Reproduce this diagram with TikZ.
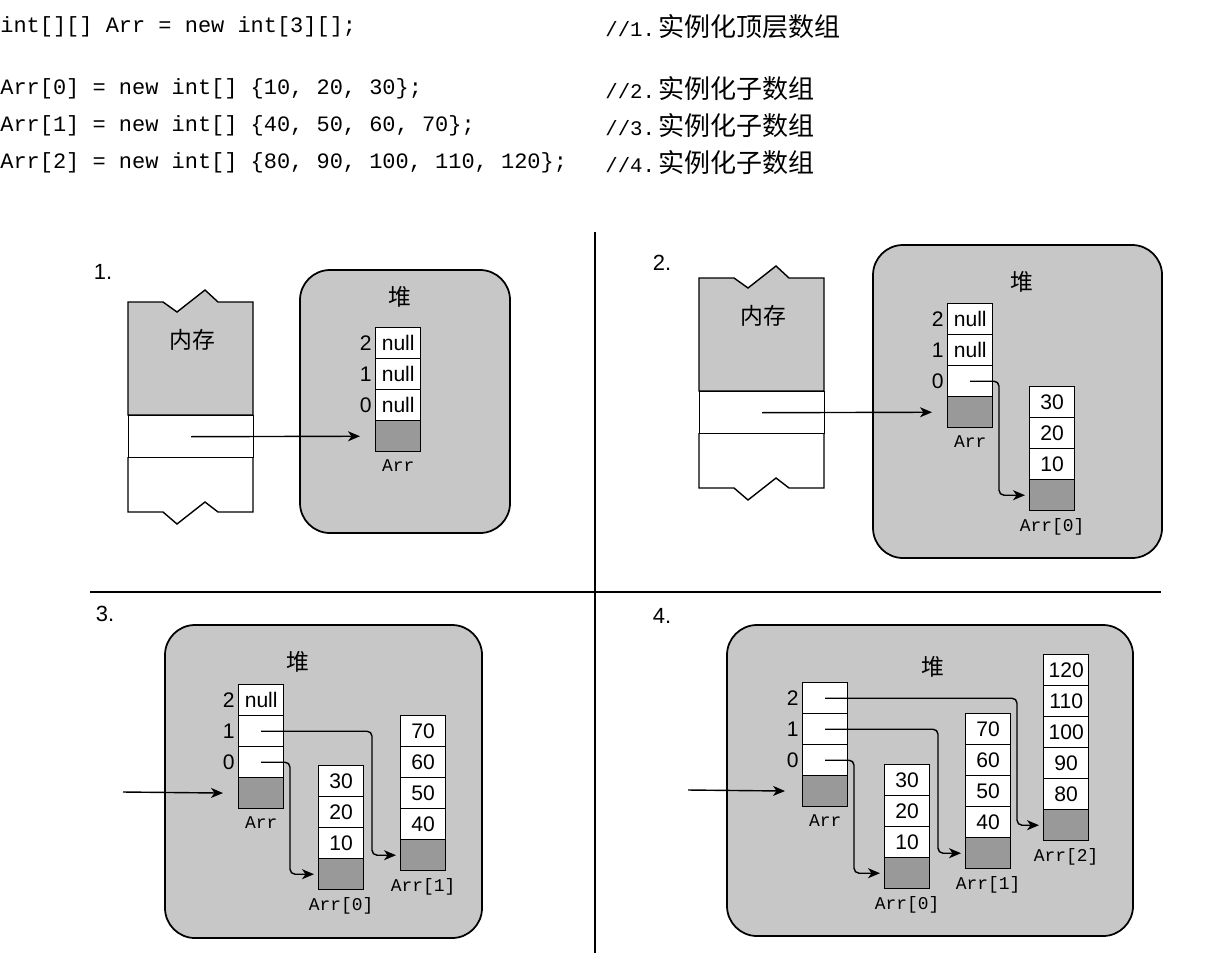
\documentclass[tikz,border=0pt]{standalone}
\usepackage{fontspec}
\setmainfont{Liberation Sans}
\newfontfamily\cjk{Noto Sans CJK SC}
\newfontfamily\codefont{Liberation Mono}
\usetikzlibrary{arrows.meta, positioning, calc}
\definecolor{stipple}{gray}{0.78}
\definecolor{stippledark}{gray}{0.6}

\tikzset{
  cell/.style={draw, line width=0.8pt, fill=white, anchor=north west, minimum width=0.9cm, minimum height=0.62cm, inner sep=0pt, font=\fontsize{12}{12}\selectfont},
  hdrcell/.style={cell, fill=stippledark},
  idx/.style={inner sep=0pt, font=\fontsize{12}{12}\selectfont},
  arrname/.style={inner sep=0pt, font=\codefont\fontsize{10.2}{10.2}\selectfont},
  heap/.style={draw, line width=1pt, fill=stipple, rounded corners=0.6cm},
  heaplbl/.style={inner sep=0pt, font=\cjk\fontsize{13}{13}\selectfont},
  ptr/.style={line width=0.8pt, rounded corners=0.1cm, -{Stealth[length=0.24cm, width=0.2cm, inset=0.07cm]}},
  codeline/.style={anchor=west, inner sep=0pt, font=\codefont\fontsize{12.5}{12.5}\selectfont},
  comment/.style={anchor=west, inner sep=0pt, font=\codefont\fontsize{11.8}{11.8}\selectfont},
  panel/.style={inner sep=0pt, font=\fontsize{12.5}{12.5}\selectfont},
  divider/.style={line width=1.2pt}
}

\begin{document}
\begin{tikzpicture}[x=0.02cm, y=-0.02cm]
\useasboundingbox (0,0) rectangle (1222,953);

% code lines
\node[codeline] (c1) at (0,27) {int[][] Arr = new int[3][];};
\node[codeline] (c2) at (0,89) {Arr[0] = new int[] \{10, 20, 30\};};
\node[codeline] (c3) at (0,126) {Arr[1] = new int[] \{40, 50, 60, 70\};};
\node[codeline] (c4) at (0,163) {Arr[2] = new int[] \{80, 90, 100, 110, 120\};};
\node[comment] (m1) at (605,27) {//1.\hspace{2pt}{\cjk\fontsize{14.8}{14.8}\selectfont 实例化顶层数组}};
\node[comment] (m2) at (605,89) {//2.\hspace{2pt}{\cjk\fontsize{14.8}{14.8}\selectfont 实例化子数组}};
\node[comment] (m3) at (605,126) {//3.\hspace{2pt}{\cjk\fontsize{14.8}{14.8}\selectfont 实例化子数组}};
\node[comment] (m4) at (605,163) {//4.\hspace{2pt}{\cjk\fontsize{14.8}{14.8}\selectfont 实例化子数组}};

% dividers
\draw[divider] (595,232) -- (595,953);
\draw[divider] (90,592) -- (1161,592);

% panel numbers
\node[panel] (n1) at (103,272) {1.};
\node[panel] (n2) at (662,263) {2.};
\node[panel] (n3) at (105,614) {3.};
\node[panel] (n4) at (662,616) {4.};

% heaps
\draw[heap] (300,270) rectangle (510,533);
\draw[heap] (873,245) rectangle (1162,558);
\draw[heap] (165,625) rectangle (482,938);
\draw[heap] (727,625) rectangle (1133,936);
\node[heaplbl] (h1) at (400,297) {堆};
\node[heaplbl] (h2) at (1022,282) {堆};
\node[heaplbl] (h3) at (298,662) {堆};
\node[heaplbl] (h4) at (933,667) {堆};

% memory stacks
\foreach \p/\dx/\dy in {1/0/0, 2/571/-24} {
  \begin{scope}[shift={(\dx,\dy)}]
    \draw[line width=0.8pt, fill=stipple] (128,415) -- (128,302) -- (163,302) -- (177,312) -- (205,290) -- (218,302) -- (253,302) -- (253,415) -- cycle;
    \draw[line width=0.8pt] (128,457) -- (128,512) -- (163,512) -- (177,524) -- (205,502) -- (218,512) -- (253,512) -- (253,457);
    \node[cell, minimum width=2.5cm, minimum height=0.84cm] (slot\p) at (128,415) {};
    \node[heaplbl] (memlbl\p) at (192,340) {内存};
  \end{scope}
}

% panel 1
\foreach \i/\v [count=\k from 0] in {2/null, 1/null, 0/null} {
  \node[cell] (p1arr\i) at (375,327+31*\k) {\v};
  \node[idx, left=0.06cm of p1arr\i] (p1idx\i) {\i};
}
\node[hdrcell] (p1arrh) at (375,420) {};
\node[arrname, below=0.14cm of p1arrh] (p1name) {Arr};
\draw[ptr, shorten >=0.3cm] (slot1.center) -- (p1arrh.west);

% panel 2
\foreach \i/\v [count=\k from 0] in {2/null, 1/null, 0/{}} {
  \node[cell] (p2arr\i) at (947,303+31*\k) {\v};
  \node[idx, left=0.06cm of p2arr\i] (p2idx\i) {\i};
}
\node[hdrcell] (p2arrh) at (947,396) {};
\node[arrname, below=0.14cm of p2arrh] (p2name) {Arr};
\foreach \v [count=\k from 0] in {30, 20, 10}
  \node[cell] (p2s0c\k) at (1029,386+31*\k) {\v};
\node[hdrcell] (p2s0h) at (1029,479) {};
\node[arrname, below=0.14cm of p2s0h] (p2s0name) {Arr[0]};
\draw[ptr, shorten >=0.3cm] (slot2.center) -- (p2arrh.west);
\draw[ptr, shorten >=0.08cm] (p2arr0.center) -| ($(p2s0h.west)+(-30,0)$) -- (p2s0h.west);

% panel 3
\foreach \i/\v [count=\k from 0] in {2/null, 1/{}, 0/{}} {
  \node[cell] (p3arr\i) at (238,684+31*\k) {\v};
  \node[idx, left=0.06cm of p3arr\i] (p3idx\i) {\i};
}
\node[hdrcell] (p3arrh) at (238,777) {};
\node[arrname, below=0.14cm of p3arrh] (p3name) {Arr};
\foreach \v [count=\k from 0] in {30, 20, 10}
  \node[cell] (p3s0c\k) at (318,765+31*\k) {\v};
\node[hdrcell] (p3s0h) at (318,858) {};
\node[arrname, below=0.14cm of p3s0h] (p3s0name) {Arr[0]};
\foreach \v [count=\k from 0] in {70, 60, 50, 40}
  \node[cell] (p3s1c\k) at (400,715+31*\k) {\v};
\node[hdrcell] (p3s1h) at (400,839) {};
\node[arrname, below=0.14cm of p3s1h] (p3s1name) {Arr[1]};
\coordinate (p3in) at (123,792);
\draw[ptr, shorten >=0.3cm] (p3in) -- (p3arrh.west);
\draw[ptr, shorten >=0.08cm] (p3arr0.center) -| ($(p3s0h.west)+(-28,0)$) -- (p3s0h.west);
\draw[ptr, shorten >=0.08cm] (p3arr1.center) -| ($(p3s1h.west)+(-28,0)$) -- (p3s1h.west);

% panel 4
\foreach \i [count=\k from 0] in {2, 1, 0} {
  \node[cell] (p4arr\i) at (802,682+31*\k) {};
  \node[idx, left=0.06cm of p4arr\i] (p4idx\i) {\i};
}
\node[hdrcell] (p4arrh) at (802,775) {};
\node[arrname, below=0.14cm of p4arrh] (p4name) {Arr};
\foreach \v [count=\k from 0] in {30, 20, 10}
  \node[cell] (p4s0c\k) at (884,764+31*\k) {\v};
\node[hdrcell] (p4s0h) at (884,857) {};
\node[arrname, below=0.14cm of p4s0h] (p4s0name) {Arr[0]};
\foreach \v [count=\k from 0] in {70, 60, 50, 40}
  \node[cell] (p4s1c\k) at (965,713+31*\k) {\v};
\node[hdrcell] (p4s1h) at (965,837) {};
\node[arrname, below=0.14cm of p4s1h] (p4s1name) {Arr[1]};
\foreach \v [count=\k from 0] in {120, 110, 100, 90, 80}
  \node[cell] (p4s2c\k) at (1043,654+31*\k) {\v};
\node[hdrcell] (p4s2h) at (1043,809) {};
\node[arrname, below=0.14cm of p4s2h] (p4s2name) {Arr[2]};
\coordinate (p4in) at (688,790);
\draw[ptr, shorten >=0.34cm] (p4in) -- (p4arrh.west);
\draw[ptr, shorten >=0.08cm] (p4arr0.center) -| ($(p4s0h.west)+(-30,0)$) -- (p4s0h.west);
\draw[ptr, shorten >=0.08cm] (p4arr1.center) -| ($(p4s1h.west)+(-27,0)$) -- (p4s1h.west);
\draw[ptr, shorten >=0.08cm] (p4arr2.center) -| ($(p4s2h.west)+(-26,0)$) -- (p4s2h.west);
\end{tikzpicture}
\end{document}
